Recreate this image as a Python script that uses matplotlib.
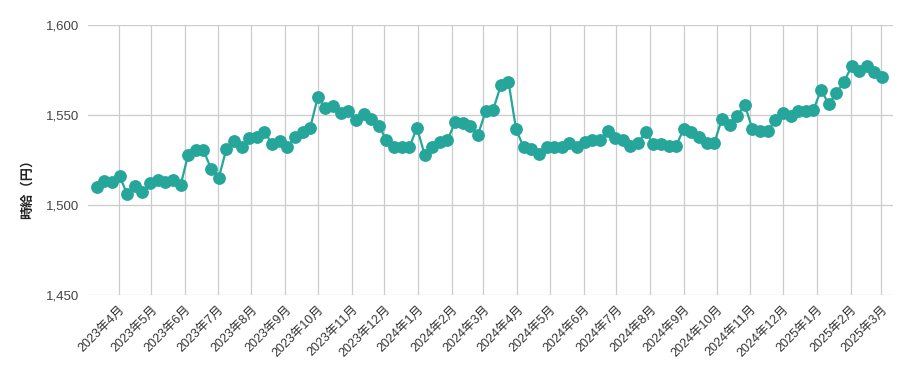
import matplotlib
matplotlib.use('Agg')
import matplotlib.pyplot as plt
import matplotlib.ticker as mticker
import pandas as pd

plt.rcParams['font.family'] = ['Liberation Sans', 'Noto Sans CJK JP', 'DejaVu Sans']

# weekly hourly wage (yen)
start_date = '2023-03-12'
wages = [
    1510, 1513.5, 1513, 1516, 1506, 1510.5, 1507, 1512, 1514, 1513, 1514, 1511,
    1528, 1530.5, 1530.5, 1520, 1515, 1531, 1535.5, 1532.5, 1537.5, 1538, 1540.5, 1534,
    1535.5, 1532, 1538, 1540.5, 1543, 1560, 1554, 1555, 1551, 1552, 1547, 1550.5,
    1548, 1544, 1536, 1532, 1532, 1532, 1543, 1528, 1532, 1535, 1536, 1546,
    1545.5, 1544, 1539, 1552, 1553, 1566.5, 1568.5, 1542, 1532, 1531, 1528.5, 1532,
    1532, 1532, 1534.5, 1532, 1535, 1536, 1536, 1541, 1537, 1536, 1533, 1534.5,
    1540.5, 1534, 1534, 1533, 1533, 1542.5, 1540.5, 1538, 1534.5, 1534.5, 1548, 1544.5,
    1549.5, 1555.5, 1542, 1541, 1541, 1547, 1551, 1549.5, 1552.5, 1552, 1553, 1564,
    1556, 1562, 1568.5, 1577, 1574.5, 1577, 1574, 1571,
]
dates = pd.date_range(start_date, periods=len(wages), freq='7D')

month_ticks = pd.date_range('2023-04-01', '2025-03-01', freq='MS')
month_labels = [f'{d.year}年{d.month}月' for d in month_ticks]
y_ticks = [1450, 1500, 1550, 1600]

color = '#26A69A'

fig = plt.figure(figsize=(9.11, 3.71), dpi=100, facecolor='white')
ax = fig.add_axes([88 / 911, 1 - 295 / 371, (893 - 88) / 911, (295 - 25) / 371])

ax.plot(dates, wages, color=color, linewidth=1.6, marker='o', markersize=8.2,
        markerfacecolor=color, markeredgecolor=color, zorder=3)

ax.set_ylim(1450, 1600)
ax.set_yticks(y_ticks)
ax.yaxis.set_major_formatter(mticker.FuncFormatter(lambda v, p: f'{int(v):,}'))
ax.set_xlim(pd.Timestamp('2023-03-04'), pd.Timestamp('2025-03-12'))
ax.set_xticks(month_ticks)
ax.set_xticklabels(month_labels, rotation=45, ha='right', rotation_mode='anchor',
                   fontsize=9, color='#333333')

ax.grid(True, color='#cccccc', linewidth=0.9)
ax.set_axisbelow(True)
for s in ax.spines.values():
    s.set_visible(False)
ax.tick_params(axis='both', length=0)
ax.tick_params(axis='y', labelsize=9.5, labelcolor='#444444', pad=6)
ax.tick_params(axis='x', pad=6)

fig.text(27 / 911, 1 - 186 / 371, '時給（円）', rotation=90, ha='center', va='center',
         fontsize=9.5, fontweight='bold', color='#222222', family=['Noto Sans CJK JP'])

plt.savefig('out.png', dpi=100, facecolor='white')
